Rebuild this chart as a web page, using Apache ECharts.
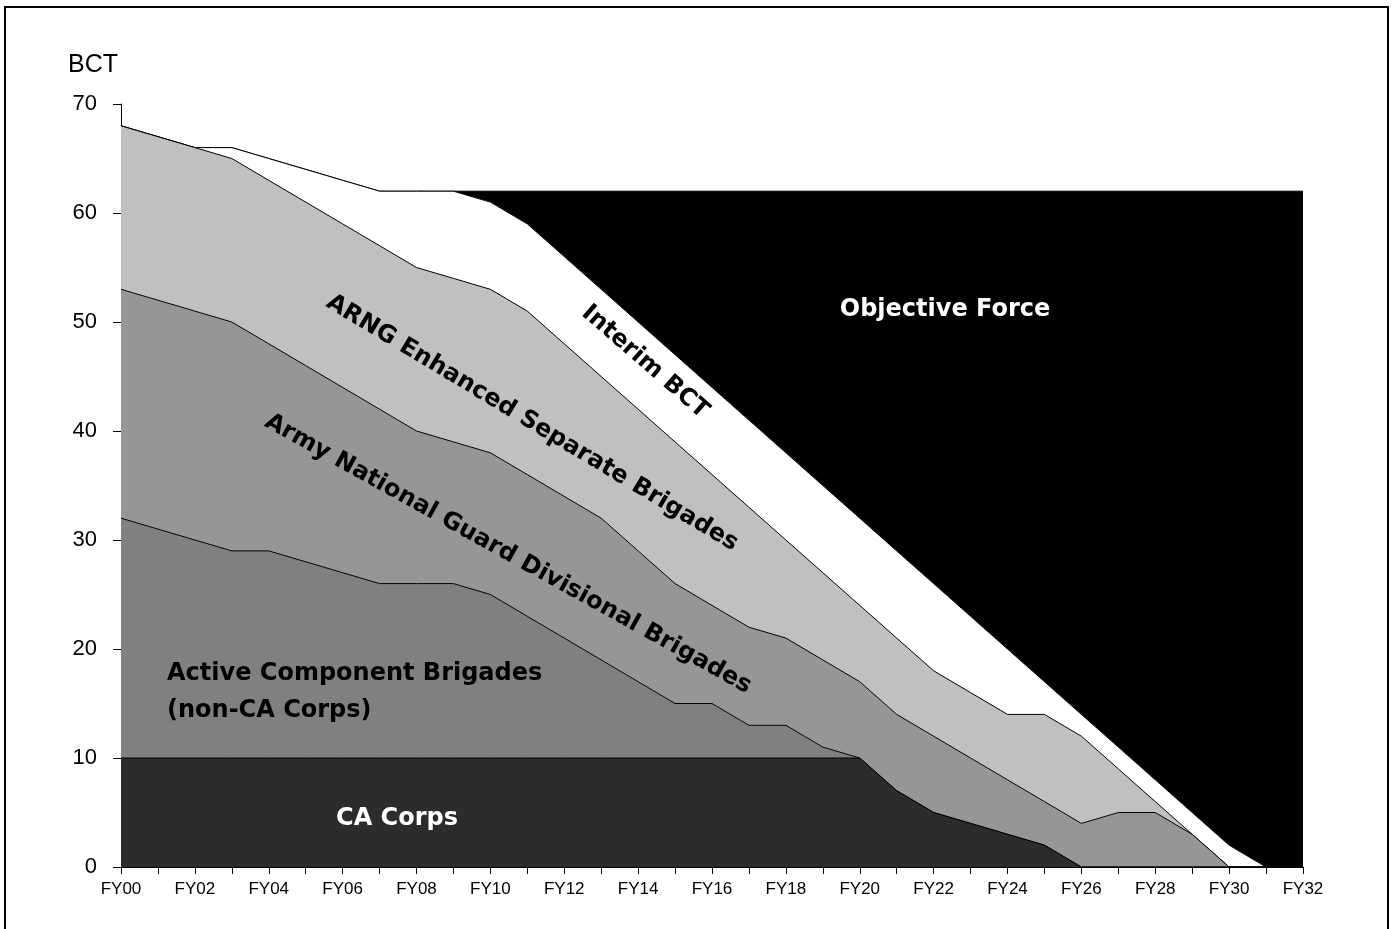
<!DOCTYPE html>
<html>
<head>
<meta charset="utf-8">
<script src="https://cdn.jsdelivr.net/npm/echarts@6/dist/echarts.min.js"></script>
<style>
html,body{margin:0;padding:0;background:#fff;}
#chart{width:1392px;height:929px;}
</style>
</head>
<body>
<div id="chart"></div>
<script>
var categories = ['FY00','FY01','FY02','FY03','FY04','FY05','FY06','FY07','FY08','FY09','FY10',
  'FY11','FY12','FY13','FY14','FY15','FY16','FY17','FY18','FY19','FY20',
  'FY21','FY22','FY23','FY24','FY25','FY26','FY27','FY28','FY29','FY30','FY31','FY32'];

var caCorps   = [10,10,10,10,10,10,10,10,10,10,10,10,10,10,10,10,10,10,10,10,10,7,5,4,3,2,0,0,0,0,0,0,0];
var activeComp= [22,21,20,19,19,18,17,16,16,16,15,13,11,9,7,5,5,3,3,1,0,0,0,0,0,0,0,0,0,0,0,0,0];
var arngDiv   = [21,21,21,21,19,18,17,16,14,13,13,13,13,13,12,11,9,9,8,8,7,7,7,6,5,4,4,5,5,3,0,0,0];
var arngEnh   = [15,15,15,15,15,15,15,15,15,15,15,15,14,13,13,13,12,11,9,8,7,7,6,6,6,8,8,4,1,0,0,0,0];
var interim   = [0,0,0,1,2,3,4,5,7,8,8,8,8,8,8,8,8,8,8,8,8,8,8,7,6,3,2,2,2,2,2,0,0];
var objective = [0,0,0,0,0,0,0,0,0,0,1,3,6,9,12,15,18,21,24,27,30,33,36,39,42,45,48,51,54,57,60,62,62];

var yTicks = [0,10,20,30,40,50,60,70];

var seriesDefs = [
  {name:'CA Corps', data:caCorps, color:'#2c2c2c'},
  {name:'Active Component Brigades', data:activeComp, color:'#808080'},
  {name:'Army National Guard Divisional Brigades', data:arngDiv, color:'#969696'},
  {name:'ARNG Enhanced Separate Brigades', data:arngEnh, color:'#c0c0c0'},
  {name:'Interim BCT', data:interim, color:'#ffffff'},
  {name:'Objective Force', data:objective, color:'#000000'}
];

var chart = echarts.init(document.getElementById('chart'), null, {renderer:'canvas'});

var series = seriesDefs.map(function(s, i){
  return {
    name: s.name,
    type: 'line',
    stack: 'total',
    data: s.data,
    symbol: 'none',
    smooth: false,
    z: 10 - i,
    lineStyle: {color:'#000', width:1},
    areaStyle: {color: s.color, opacity:1},
    itemStyle: {color: s.color},
    emphasis: {disabled:true},
    silent: true
  };
});

var LBL = 'bold 24px "DejaVu Sans"';

chart.setOption({
  animation: false,
  backgroundColor: '#fff',
  grid: {left:121, right:89, top:104, bottom:62, containLabel:false},
  xAxis: {
    type: 'category',
    data: categories,
    boundaryGap: false,
    axisLine: {show:true, lineStyle:{color:'#000', width:1}},
    axisTick: {show:true, interval:0, length:7, lineStyle:{color:'#000'}},
    axisLabel: {interval:1, color:'#000', fontFamily:'Liberation Sans', fontSize:17, margin:14},
    splitLine: {show:false}
  },
  yAxis: {
    type: 'value',
    min: yTicks[0],
    max: yTicks[yTicks.length-1],
    interval: 10,
    axisLine: {show:true, lineStyle:{color:'#000', width:1}},
    axisTick: {show:true, length:8, lineStyle:{color:'#000'}},
    axisLabel: {color:'#000', fontFamily:'Liberation Sans', fontSize:22, margin:24},
    splitLine: {show:false}
  },
  series: series,
  graphic: [
    {type:'rect', shape:{x:5, y:7, width:1383, height:930}, style:{fill:'none', stroke:'#000', lineWidth:2}, silent:true, z:100},
    {type:'text', x:68, y:65, style:{text:'BCT', fill:'#000', font:'25px "Liberation Sans"', textAlign:'left', textVerticalAlign:'middle'}, z:100},
    {type:'text', x:945, y:310, style:{text:'Objective Force', fill:'#fff', font:LBL, textAlign:'center', textVerticalAlign:'middle'}, z:100},
    {type:'text', x:645, y:362, rotation:-41*Math.PI/180, style:{text:'Interim BCT', fill:'#000', font:LBL, textAlign:'center', textVerticalAlign:'middle'}, z:100},
    {type:'text', x:532, y:423, rotation:-31*Math.PI/180, style:{text:'ARNG Enhanced Separate Brigades', fill:'#000', font:LBL, textAlign:'center', textVerticalAlign:'middle'}, z:100},
    {type:'text', x:508, y:554, rotation:-29*Math.PI/180, style:{text:'Army National Guard Divisional Brigades', fill:'#000', font:LBL, textAlign:'center', textVerticalAlign:'middle'}, z:100},
    {type:'text', x:167, y:674, style:{text:'Active Component Brigades', fill:'#000', font:LBL, textAlign:'left', textVerticalAlign:'middle'}, z:100},
    {type:'text', x:167, y:711, style:{text:'(non-CA Corps)', fill:'#000', font:LBL, textAlign:'left', textVerticalAlign:'middle'}, z:100},
    {type:'text', x:397, y:819, style:{text:'CA Corps', fill:'#fff', font:LBL, textAlign:'center', textVerticalAlign:'middle'}, z:100}
  ]
});
</script>
</body>
</html>
